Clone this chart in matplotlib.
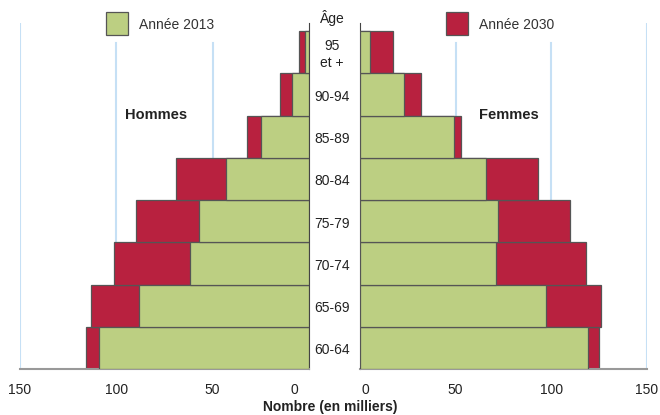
import matplotlib
matplotlib.use('Agg')
import matplotlib.pyplot as plt
from matplotlib.patches import Rectangle
from matplotlib.transforms import blended_transform_factory, ScaledTranslation

plt.rcParams['font.family'] = ['Liberation Sans', 'DejaVu Sans']

ages = ['60-64', '65-69', '70-74', '75-79', '80-84', '85-89', '90-94', '95\net +']
hommes_2013 = [109, 88, 62, 57, 43, 25, 9, 2]
hommes_2030 = [116, 113, 101, 90, 69, 32, 15, 5]
femmes_2013 = [119, 97, 71, 72, 66, 49, 23, 5]
femmes_2030 = [125, 126, 118, 110, 93, 53, 32, 17]
ticks = [0, 50, 100, 150]

green = '#bccf82'
red = '#b8213f'
edge = '#555555'
gridc = '#c6e0f5'

W, H = 660, 415
fig = plt.figure(figsize=(6.6, 4.15), dpi=100)
bottom = 1 - 369 / H
height = (369 - 23) / H
axL = fig.add_axes([20 / W, bottom, (309 - 20) / W, height])
axR = fig.add_axes([360 / W, bottom, (647 - 360) / W, height])

ypos = list(range(len(ages)))
for ax, v13, v30 in [(axL, hommes_2013, hommes_2030), (axR, femmes_2013, femmes_2030)]:
    ax.set_xlim(0, 150)
    ax.set_ylim(-0.5, 7.69)
    for t in [50, 100]:
        ax.axvline(t, ymax=0.942, color=gridc, lw=1.5, zorder=0)
    ax.axvline(150, color=gridc, lw=1.5, zorder=0)
    ax.barh(ypos, v30, height=1.0, color=red, edgecolor=edge, lw=0.9, zorder=2)
    ax.barh(ypos, v13, height=1.0, color=green, edgecolor=edge, lw=0.9, zorder=3)
    ax.set_xticks(ticks)
    ax.set_xticklabels([str(t) for t in ticks])
    ax.set_yticks([])
    ax.tick_params(axis='x', length=0, labelsize=10, pad=10, colors='#222222')
    for s in ['top', 'left', 'right', 'bottom']:
        ax.spines[s].set_visible(False)
    ax.spines['bottom'].set_visible(True)
    ax.spines['bottom'].set_color('#999999')
    ax.spines['bottom'].set_linewidth(1.5)
    ax.set_facecolor('none')

axL.invert_xaxis()
axL.spines['right'].set_visible(True)
axL.spines['right'].set_color('#444444')
axR.spines['left'].set_visible(True)
axR.spines['left'].set_color('#444444')

# the "0" labels sit a bit off the axis line in the original
for ax, dx in [(axL, -15), (axR, 5)]:
    lab = ax.xaxis.get_major_ticks()[0].label1
    lab.set_transform(lab.get_transform() + ScaledTranslation(dx / 100, 0, fig.dpi_scale_trans))

# age labels between the two panels
tr = blended_transform_factory(fig.transFigure, axL.transData)
for y, a in zip(ypos, ages):
    axL.text(332 / W, y - 0.06, a, transform=tr, ha='center', va='center',
             fontsize=10, color='#222222', linespacing=1.3, clip_on=False)
fig.text(332 / W, 1 - 18 / H, 'Âge', ha='center', va='center', fontsize=10, color='#222222')

# legend boxes
for x0, c, lab in [(106, green, 'Année 2013'), (446, red, 'Année 2030')]:
    fig.add_artist(Rectangle((x0 / W, 1 - 35 / H), 22 / W, 23 / H, transform=fig.transFigure,
                             facecolor=c, edgecolor=edge, lw=0.9))
    fig.text((x0 + 33) / W, 1 - 25 / H, lab, ha='left', va='center', fontsize=10, color='#333333')

fig.text(125 / W, 1 - 115 / H, 'Hommes', ha='left', va='center', fontsize=10.5,
         fontweight='bold', color='#222222')
fig.text(479 / W, 1 - 115 / H, 'Femmes', ha='left', va='center', fontsize=10.5,
         fontweight='bold', color='#222222')
fig.text(330 / W, 1 - 407 / H, 'Nombre (en milliers)', ha='center', va='center',
         fontsize=10, fontweight='bold', color='#222222')

fig.savefig('out.png', dpi=100, facecolor='white')
